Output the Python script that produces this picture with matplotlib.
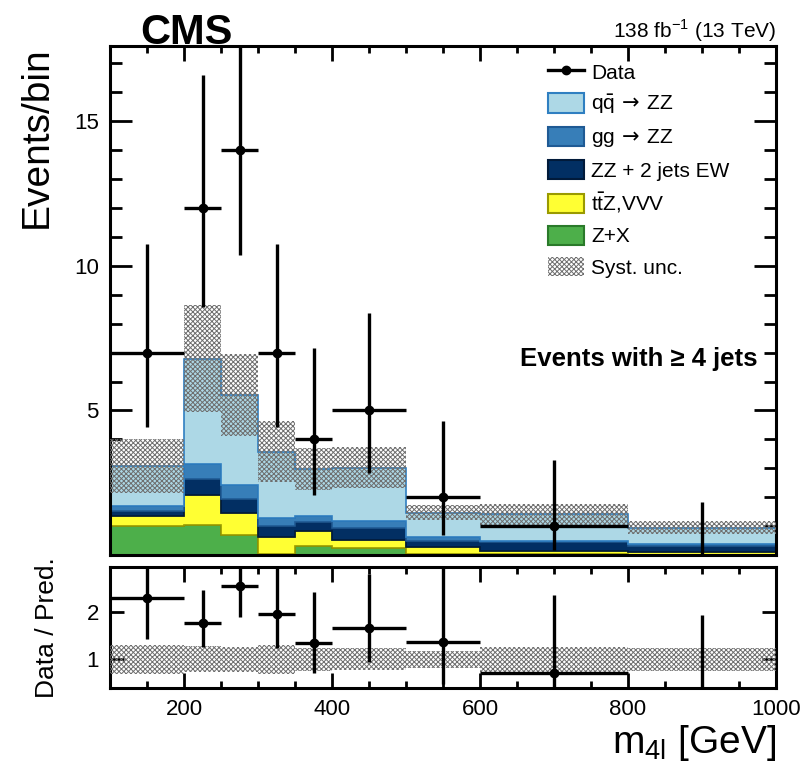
import numpy as np
import matplotlib
matplotlib.use("Agg")
import matplotlib.pyplot as plt
from matplotlib.patches import Patch
from matplotlib.lines import Line2D
from matplotlib.ticker import MultipleLocator, FixedLocator

plt.rcParams['font.family'] = ['Liberation Sans', 'DejaVu Sans']
plt.rcParams['mathtext.fontset'] = 'dejavusans'
plt.rcParams['hatch.linewidth'] = 0.7

# bin edges in m4l [GeV]
edges = np.array([100, 200, 250, 300, 350, 400, 500, 600, 800, 1000])
centers = 0.5 * (edges[1:] + edges[:-1])
half_w = 0.5 * (edges[1:] - edges[:-1])

# stacked backgrounds (bottom to top)
zx = np.array([1.01, 1.05, 0.69, 0.02, 0.30, 0.23, 0.03, 0.02, 0.01])
ttz_vvv = np.array([0.35, 1.03, 0.78, 0.59, 0.54, 0.29, 0.24, 0.13, 0.10])
zz_ew = np.array([0.17, 0.54, 0.48, 0.40, 0.31, 0.42, 0.22, 0.29, 0.21])
gg_zz = np.array([0.15, 0.52, 0.46, 0.28, 0.19, 0.22, 0.12, 0.05, 0.06])
qq_zz = np.array([1.40, 3.64, 3.12, 2.29, 1.63, 1.86, 0.86, 0.92, 0.57])
syst = np.array([0.93, 1.85, 1.42, 1.07, 0.72, 0.70, 0.27, 0.37, 0.23])

# data with asymmetric poisson errors
data = np.array([7, 12, 14, 7, 4, 5, 2, 1, 0])
err_lo = np.array([2.58, 3.41, 3.62, 2.58, 1.91, 2.16, 1.29, 0.83, 0.0])
err_hi = np.array([3.77, 4.60, 4.83, 3.77, 3.16, 3.38, 2.64, 2.30, 1.84])

layers = [
    (zx, '#4daf4a', '#2a7a2a', 'Z+X'),
    (ttz_vvv, '#ffff33', '#9a9a00', r't$\bar{\mathregular{t}}$Z,VVV'),
    (zz_ew, '#022f63', '#011a3a', 'ZZ + 2 jets EW'),
    (gg_zz, '#377eb8', '#1f5a94', r'gg$\,\rightarrow\,$ZZ'),
    (qq_zz, '#add8e6', '#2f7fc1', r'q$\bar{\mathregular{q}}\,\rightarrow\,$ZZ'),
]

fig = plt.figure(figsize=(8.12, 7.74), dpi=100)
ax = fig.add_axes([0.1355, 0.2829, 0.8202, 0.6576])
axr = fig.add_axes([0.1355, 0.1111, 0.8202, 0.1563], sharex=ax)

bottom = np.zeros(len(data))
for vals, fc, ec, lab in layers:
    top = bottom + vals
    ax.stairs(top, edges, baseline=bottom, fill=True, facecolor=fc,
              edgecolor=ec, linewidth=1.2, zorder=2)
    bottom = top
pred = bottom

band_kw = dict(fill=True, facecolor='none', edgecolor='#6e6e6e',
               hatch='xxxxxxx', linewidth=0, zorder=3)
ax.stairs(pred + syst, edges, baseline=pred - syst, **band_kw)

err_kw = dict(fmt='o', color='black', ms=6, elinewidth=2.4, capsize=0, zorder=5)
nz = data > 0
ax.errorbar(centers[nz], data[nz], xerr=half_w[nz],
            yerr=[err_lo[nz], err_hi[nz]], **err_kw)
ax.errorbar(centers[~nz], data[~nz], yerr=[err_lo[~nz], err_hi[~nz]],
            fmt='none', ecolor='black', elinewidth=2.4, capsize=0, zorder=5)

ax.set_xlim(100, 1000)
ax.set_ylim(0, 17.6)

# ratio panel
ratio = data / pred
r_lo = err_lo / pred
r_hi = err_hi / pred
rel = syst / pred
axr.stairs(1 + rel, edges, baseline=1 - rel, **band_kw)
axr.errorbar(centers[nz], ratio[nz], xerr=half_w[nz],
             yerr=[r_lo[nz], r_hi[nz]], **err_kw)
axr.errorbar(centers[~nz], ratio[~nz], yerr=[r_lo[~nz], r_hi[~nz]],
             fmt='none', ecolor='black', elinewidth=2.4, capsize=0, zorder=5)
axr.set_ylim(0.4, 2.93)

for a in (ax, axr):
    for s in a.spines.values():
        s.set_linewidth(2.2)
    a.xaxis.set_major_locator(MultipleLocator(200))
    a.xaxis.set_minor_locator(MultipleLocator(50))
    a.tick_params(which='both', direction='in', top=True, right=True,
                  width=2.0, labelsize=16)
    a.tick_params(axis='x', which='major', length=11)
    a.tick_params(axis='x', which='minor', length=5)

ax.yaxis.set_major_locator(FixedLocator([5, 10, 15]))
ax.yaxis.set_minor_locator(MultipleLocator(1))
ax.tick_params(axis='y', which='major', length=16, pad=8)
ax.tick_params(axis='y', which='minor', length=8.5)
ax.tick_params(axis='x', labelbottom=False)

axr.yaxis.set_major_locator(MultipleLocator(1))
axr.tick_params(axis='y', which='major', length=10, pad=8)
axr.tick_params(axis='x', pad=8)

ax.set_ylabel('Events/bin', fontsize=28, loc='top', labelpad=14)
axr.set_ylabel('Data / Pred.', fontsize=19, labelpad=20)
axr.set_xlabel(r'm$_{\mathregular{4l}}$ [GeV]', fontsize=28, loc='right',
               labelpad=2)

fig.text(140 / 812, 1 - 44 / 774, 'CMS', fontsize=30, fontweight='bold',
         ha='left', va='baseline')
fig.text(776 / 812, 1 - 38 / 774, r'138 fb$^{\mathregular{-1}}$ (13 TeV)',
         fontsize=15, ha='right', va='baseline')
ax.text(0.972, 0.385, 'Events with ≥ 4 jets', transform=ax.transAxes,
        fontsize=18.5, fontweight='bold', ha='right', va='center')

handles = [Line2D([], [], color='black', marker='o', ms=6, lw=2.4)]
labels = ['Data']
for vals, fc, ec, lab in layers[::-1]:
    handles.append(Patch(facecolor=fc, edgecolor=ec, linewidth=1.5))
    labels.append(lab)
handles.append(Patch(facecolor='none', edgecolor='#6e6e6e', hatch='xxxxxxx',
                     linewidth=0))
labels.append('Syst. unc.')
ax.legend(handles, labels, loc='upper left', bbox_to_anchor=(0.658, 0.969),
          frameon=False, fontsize=15, handlelength=1.7, handleheight=1.05,
          handletextpad=0.35, labelspacing=0.5, borderpad=0, borderaxespad=0)

fig.savefig('out.png', dpi=100)
